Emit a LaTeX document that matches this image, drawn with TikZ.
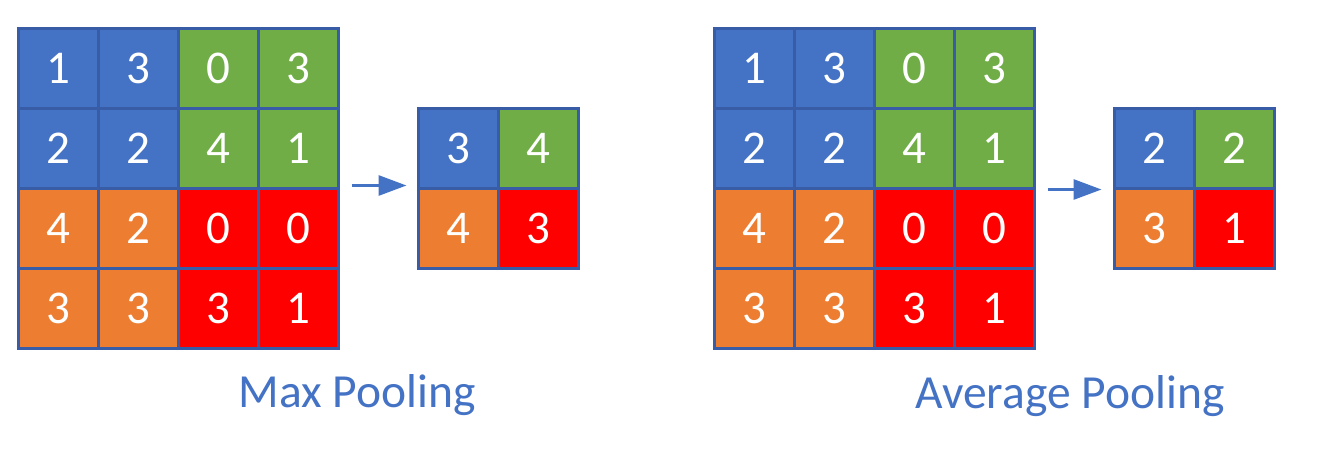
\documentclass[tikz,border=0pt]{standalone}
\usepackage{fontspec}
\setmainfont{Carlito}
\usetikzlibrary{arrows.meta}
\definecolor{cblue}{HTML}{4472C4}
\definecolor{cgreen}{HTML}{70AD47}
\definecolor{corange}{HTML}{ED7D31}
\definecolor{cred}{HTML}{FF0000}
\definecolor{edge}{RGB}{56,93,166}
\begin{document}
\begin{tikzpicture}[x=1pt,y=-1pt,
  cell/.style={draw=edge, line width=3pt, minimum size=80pt, inner sep=0pt, text=white,
    font=\fontsize{47}{47}\selectfont},
  arr/.style={draw=cblue, line width=3pt, -{Triangle[length=28pt,width=20pt]}},
  caption/.style={text=cblue, anchor=base, font=\fontsize{47.5}{47.5}\selectfont}]
\useasboundingbox[fill=white] (0,0) rectangle (1324,450);
% Max pooling input
\foreach \r/\c/\v/\col in {1/1/1/cblue,1/2/3/cblue,1/3/0/cgreen,1/4/3/cgreen,
  2/1/2/cblue,2/2/2/cblue,2/3/4/cgreen,2/4/1/cgreen,
  3/1/4/corange,3/2/2/corange,3/3/0/cred,3/4/0/cred,
  4/1/3/corange,4/2/3/corange,4/3/3/cred,4/4/1/cred}
  \node[cell, fill=\col] (L\r\c) at ({-22+80*\c},{-12+80*\r}) {\v};
% Max pooling output
\foreach \r/\c/\v/\col in {1/1/3/cblue,1/2/4/cgreen,2/1/4/corange,2/2/3/cred}
  \node[cell, fill=\col] (S\r\c) at ({378+80*\c},{68+80*\r}) {\v};
% Average pooling input
\foreach \r/\c/\v/\col in {1/1/1/cblue,1/2/3/cblue,1/3/0/cgreen,1/4/3/cgreen,
  2/1/2/cblue,2/2/2/cblue,2/3/4/cgreen,2/4/1/cgreen,
  3/1/4/corange,3/2/2/corange,3/3/0/cred,3/4/0/cred,
  4/1/3/corange,4/2/3/corange,4/3/3/cred,4/4/1/cred}
  \node[cell, fill=\col] (R\r\c) at ({674+80*\c},{-12+80*\r}) {\v};
% Average pooling output
\foreach \r/\c/\v/\col in {1/1/2/cblue,1/2/2/cgreen,2/1/3/corange,2/2/1/cred}
  \node[cell, fill=\col] (T\r\c) at ({1074+80*\c},{68+80*\r}) {\v};
% arrows
\draw[arr] ([xshift=12pt,yshift=4pt]L24.south east) -- ([xshift=-10pt,yshift=4pt]S11.south west);
\draw[arr] ([xshift=12pt]R24.south east) -- ([xshift=-11pt]T11.south west);
% captions
\node[caption] (capL) at (357,407) {Max Pooling};
\node[caption] (capR) at (1070,408) {Average Pooling};
\end{tikzpicture}
\end{document}
